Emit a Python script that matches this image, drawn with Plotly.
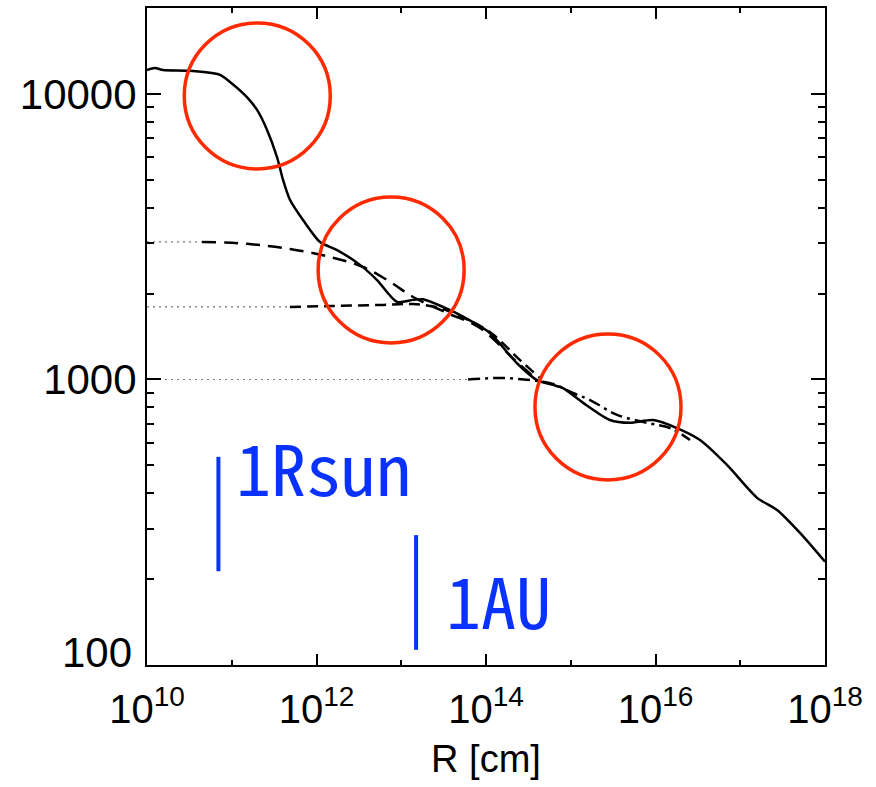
import numpy as np
import plotly.graph_objects as go

# ---- Temperature profile vs radius (main solid curve) ----
R_main = [1.0e10, 1.24e10, 1.55e10, 3.21e10, 7.26e10, 9.53e10, 1.51e11, 1.99e11,
          2.61e11, 3.42e11, 4.03e11, 4.86e11, 6.93e11, 1.10e12, 1.75e12, 3.26e12,
          5.18e12, 8.91e12, 1.38e13, 1.81e13, 3.11e13, 5.36e13, 1.11e14, 2.32e14,
          4.00e14, 6.18e14, 8.11e14, 1.40e15, 2.90e15, 5.00e15, 9.33e15, 1.79e16,
          3.35e16, 6.98e16, 1.58e17, 2.72e17, 5.07e17, 1.0e18]
T_main = [12130, 12330, 12130, 12050, 11670, 11020, 9750, 8790,
          7480, 6010, 5000, 4260, 3620, 3030, 2840, 2520,
          2230, 1870, 1900, 1910, 1795, 1660, 1455, 1140,
          995, 957, 933, 828, 721, 705, 721, 676,
          614, 502, 385, 349, 290, 230]

# ---- Profile started at T ~ 3000 K (long dashes) ----
R_dash_hi = [4.46e10, 1.51e11, 4.86e11, 1.44e12, 3.54e12, 7.36e12, 1.38e13,
             3.47e13, 8.49e13, 2.32e14, 4.0e14]
T_dash_hi = [3033, 2985, 2864, 2685, 2477, 2198, 1945, 1710, 1514, 1151, 1000]

# ---- Profile started at T ~ 1800 K (dashes) ----
R_dash_lo = [4.86e11, 1.44e12, 5.61e12, 1.38e13, 2.86e13, 4.93e13, 1.11e14,
             2.52e14, 4.34e14]
T_dash_lo = [1795, 1807, 1824, 1837, 1778, 1667, 1466, 1169, 1012]

# ---- Profile started at T ~ 1000 K (dash-dot) ----
R_dashdot = [6.14e13, 1.46e14, 3.30e14, 6.18e14, 1.06e15, 1.69e15, 3.52e15,
             7.94e15, 1.48e16, 2.55e16]
T_dashdot = [1000, 1012, 995, 964, 897, 847, 752, 705, 676, 614]

# initial temperatures continued inward as dotted guides
R_inner = 1.0e10

# reference radii
R_SUN = 6.96e10
AU = 1.496e13
rsun_T = [213, 536]
au_T = [113, 285]

# highlighted regions (centres in R, T) and their radius in pixels
circle_R = [2.0e11, 7.6e12, 2.75e15]
circle_T = [9840, 2420, 801]
circle_px = 73

x_ticks = [1e10, 1e12, 1e14, 1e16, 1e18]
x_ticktext = ["10<sup>10</sup>", "10<sup>12</sup>", "10<sup>14</sup>",
              "10<sup>16</sup>", "10<sup>18</sup>"]
x_minor = [1e11, 1e13, 1e15, 1e17]
y_ticks = [100, 1000, 10000]
y_ticktext = ["", "1000", "10000"]   # "100" is placed separately, lifted off the x axis
y_minor = [m * d for d in (100, 1000) for m in range(2, 10)] + [20000]

W, H = 876, 787
ML, MR, MT, MB = 147, 51, 8, 122
x_range = [10, 18]
y_range = [2, np.log10(20000)]
plot_w = W - ML - MR
plot_h = H - MT - MB


def to_paper_x(R):
    return (np.log10(R) - x_range[0]) / (x_range[1] - x_range[0])


def to_paper_y(T):
    return (np.log10(T) - y_range[0]) / (y_range[1] - y_range[0])


fig = go.Figure()

dot_style = dict(color="#777777", width=1.2, dash="2px,4px")
for R0, T0 in [(R_dash_hi[0], T_dash_hi[0]), (R_dash_lo[0], T_dash_lo[0]),
               (R_dashdot[0], T_dashdot[0])]:
    fig.add_trace(go.Scatter(x=[R_inner, R0], y=[T0, T0], mode="lines",
                             line=dot_style, hoverinfo="skip"))

fig.add_trace(go.Scatter(x=R_dash_hi, y=T_dash_hi, mode="lines",
                         line=dict(color="black", width=2.5, dash="14px,8px", shape="spline")))
fig.add_trace(go.Scatter(x=R_dash_lo, y=T_dash_lo, mode="lines",
                         line=dict(color="black", width=2.5, dash="11px,6px", shape="spline")))
fig.add_trace(go.Scatter(x=R_dashdot, y=T_dashdot, mode="lines",
                         line=dict(color="black", width=2.5, dash="12px,5px,3px,5px",
                                   shape="spline")))
fig.add_trace(go.Scatter(x=R_main, y=T_main, mode="lines",
                         line=dict(color="black", width=2.5, shape="spline", smoothing=0.7)))

blue = "#0a32ff"
fig.add_trace(go.Scatter(x=[R_SUN, R_SUN], y=rsun_T, mode="lines",
                         line=dict(color=blue, width=4)))
fig.add_trace(go.Scatter(x=[AU, AU], y=au_T, mode="lines",
                         line=dict(color=blue, width=4)))

label_font = dict(family="Noto Sans Mono CJK JP, Noto Sans CJK JP, Liberation Sans",
                  size=70, color=blue)
fig.add_annotation(x=np.log10(R_SUN), y=np.log10(467), text="1Rsun", showarrow=False,
                   xanchor="left", yanchor="middle", xshift=16, yshift=8, font=label_font)
fig.add_annotation(x=np.log10(AU), y=np.log10(162), text="1AU", showarrow=False,
                   xanchor="left", yanchor="middle", xshift=28, yshift=7, font=label_font)

# lowest y tick label, nudged upward
fig.add_annotation(xref="paper", yref="paper", x=0, y=to_paper_y(100), text="100",
                   showarrow=False, xanchor="right", yanchor="middle",
                   xshift=-13, yshift=13, font=dict(size=42, color="black"))

# red circles in paper units, sized to stay round on screen
rx = circle_px / plot_w
ry = circle_px / plot_h
for cR, cT in zip(circle_R, circle_T):
    px, py = to_paper_x(cR), to_paper_y(cT)
    fig.add_shape(type="circle", xref="paper", yref="paper",
                  x0=px - rx, x1=px + rx, y0=py - ry, y1=py + ry,
                  line=dict(color="#ff2a00", width=3.5), layer="above")

fig.update_layout(
    width=W, height=H,
    margin=dict(l=ML, r=MR, t=MT, b=MB),
    paper_bgcolor="white", plot_bgcolor="white",
    showlegend=False,
    font=dict(family="Liberation Sans, Arial", color="black"),
)
fig.update_xaxes(
    type="log", range=x_range, showgrid=False, zeroline=False,
    showline=True, linecolor="black", linewidth=2, mirror="ticks",
    ticks="inside", ticklen=11, tickwidth=1.5, tickcolor="black",
    tickvals=x_ticks, ticktext=x_ticktext, tickfont=dict(size=40),
    ticklabelstandoff=8,
    minor=dict(tickvals=x_minor, ticks="inside", ticklen=5, tickwidth=1.5, tickcolor="black"),
    title=dict(text="R [cm]", font=dict(size=38), standoff=15),
    automargin=False,
)
fig.update_yaxes(
    type="log", range=y_range, showgrid=False, zeroline=False,
    showline=True, linecolor="black", linewidth=2, mirror="ticks",
    ticks="inside", ticklen=14, tickwidth=1.5, tickcolor="black",
    tickvals=y_ticks, ticktext=y_ticktext, tickfont=dict(size=42),
    minor=dict(tickvals=y_minor, ticks="inside", ticklen=7, tickwidth=1.5, tickcolor="black"),
    automargin=False,
)

fig.write_html("out.html")
